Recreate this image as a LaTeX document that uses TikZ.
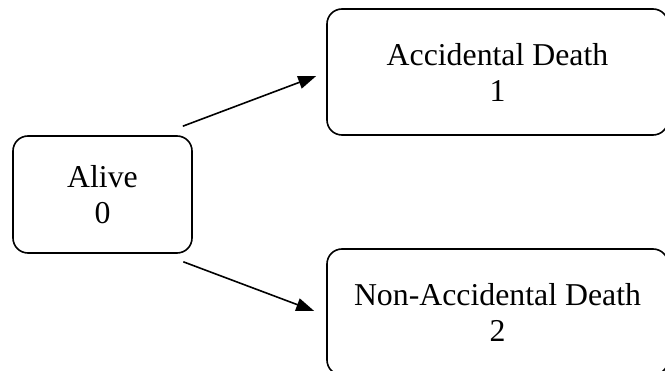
\documentclass[tikz,border=0pt]{standalone}
\usepackage{fontspec}
\setmainfont{Liberation Serif}
\usetikzlibrary{arrows.meta}

\begin{document}
\begin{tikzpicture}[x=1pt,y=-1pt,
  state/.style={draw,line width=1.6pt,rounded corners=15pt,align=center,
    font=\fontsize{31.8}{36}\selectfont},
  arr/.style={line width=1.6pt,-{Triangle[length=18pt,width=13pt]}}]

\useasboundingbox (0,0) rectangle (665,371);

\node[state,minimum width=179pt,minimum height=117pt] (alive) at (102.5,194.5) {Alive\\0};
\node[state,minimum width=341pt,minimum height=126pt] (acc) at (497.5,72) {Accidental Death\\1};
\node[state,minimum width=341pt,minimum height=126pt] (nonacc) at (497.5,312) {Non-Accidental Death\\2};

\draw[arr] ([xshift=-10pt,yshift=9pt]alive.north east) -- ([xshift=-10pt,yshift=-4pt]acc.west);
\draw[arr] ([xshift=-9.5pt,yshift=-8pt]alive.south east) -- ([xshift=-12pt,yshift=1pt]nonacc.west);

\end{tikzpicture}
\end{document}
